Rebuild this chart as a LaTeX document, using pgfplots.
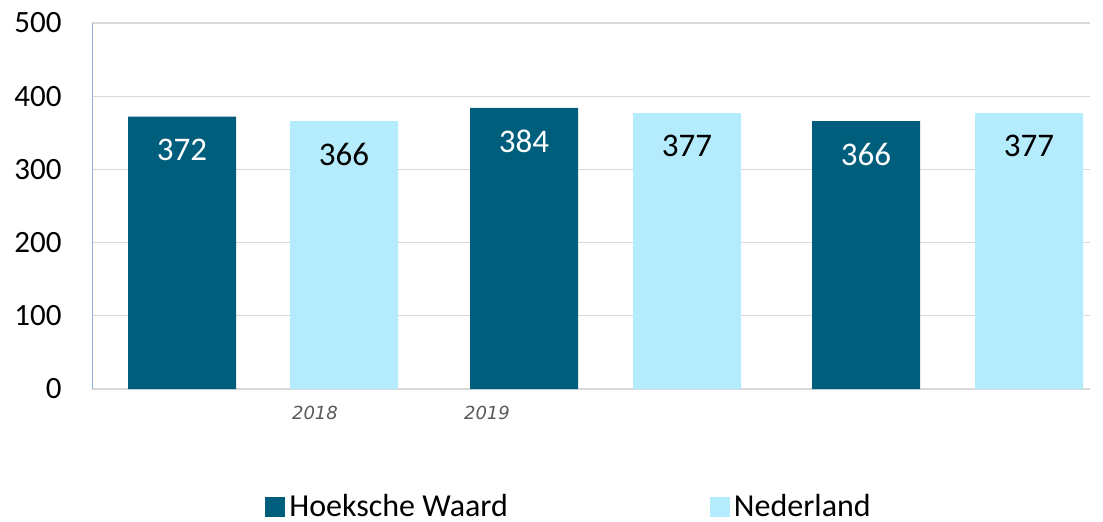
\documentclass[border=0pt]{standalone}
\usepackage{fontspec}
\setmainfont{Carlito}
\newfontfamily\dejavu{DejaVu Sans}
\usepackage{pgfplots}
\pgfplotsset{compat=1.18}
\definecolor{hwdark}{HTML}{005E7D}
\definecolor{nllight}{HTML}{B5ECFD}
\definecolor{gridgray}{HTML}{D9D9D9}
\definecolor{axblue}{HTML}{8EB4E3}
\definecolor{yeargray}{HTML}{595959}
\begin{document}
\begin{tikzpicture}[x=0.5pt,y=0.5pt]
\path[use as bounding box] (0,0) rectangle (1103,521);
\begin{axis}[
  at={(46pt,66pt)}, anchor=origin,
  width=499pt, height=183pt, scale only axis,
  xmin=0, xmax=998, ymin=0, ymax=500,
  axis x line*=bottom, axis y line*=left,
  x axis line style={draw=gridgray, -},
  y axis line style={draw=axblue, -},
  ytick={0,100,200,300,400,500},
  ymajorgrids, grid style={gridgray, line width=0.6pt},
  major tick length=0pt,
  xtick={223,395}, xticklabels={2018,2019},
  xticklabel style={font=\dejavu\itshape\fontsize{9}{10}\selectfont, text=yeargray, anchor=center, yshift=-12pt},
  yticklabel style={font=\fontsize{15.5}{17}\selectfont, anchor=east, inner sep=0pt, xshift=-15pt},
  /pgf/number format/assume math mode=true,
  ybar, bar width=108,
  nodes near coords,
  every node near coord/.append style={font=\fontsize{16.5}{18}\selectfont, anchor=center, yshift=-16.5pt},
  legend columns=2,
  legend style={draw=none, fill=none, at={(0.479,-0.322)}, anchor=center,
    inner sep=0pt, font=\fontsize{16}{18}\selectfont,
    /tikz/every even column/.append style={column sep=99pt}},
  legend image code/.code={\fill[#1] (0pt,-5pt) rectangle (10pt,5pt);},
]
\addplot[fill=hwdark, draw=none, bar shift=0, every node near coord/.append style={text=white}]
  coordinates {(90,372) (432,384) (774,366)};
\addlegendentry{Hoeksche Waard}
\addplot[fill=nllight, draw=none, bar shift=0, every node near coord/.append style={text=black}]
  coordinates {(252,366) (595,377) (937,377)};
\addlegendentry{Nederland}
\end{axis}
\end{tikzpicture}
\end{document}
